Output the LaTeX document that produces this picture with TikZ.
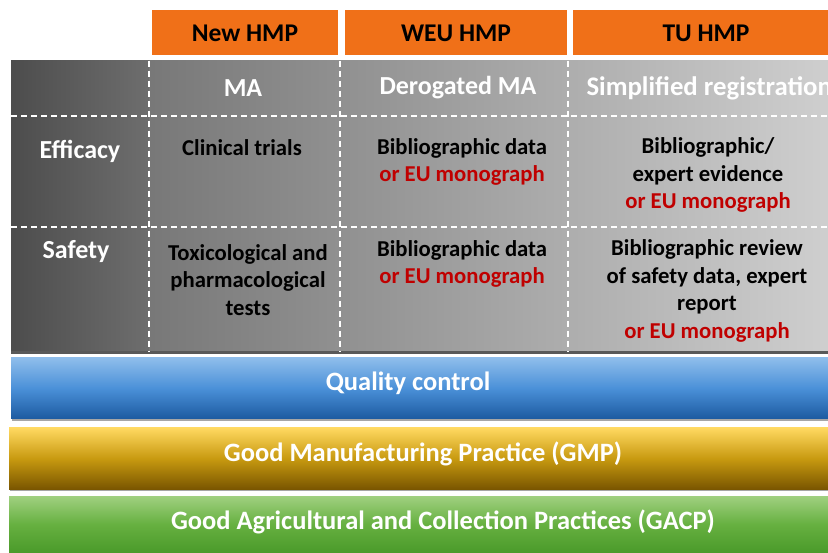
\documentclass[tikz,border=0pt]{standalone}
\usepackage{fontspec}
\setmainfont{Carlito}
\definecolor{hdrorange}{HTML}{F07018}
\definecolor{myred}{HTML}{C00000}
\definecolor{qctop}{HTML}{8EBDEB}
\definecolor{qcmid}{HTML}{4A90D8}
\definecolor{qcbot}{HTML}{1C5AA0}
\definecolor{gmptop}{HTML}{FFD860}
\definecolor{gmpmid}{HTML}{C89A10}
\definecolor{gmpbot}{HTML}{7A5600}
\definecolor{gtop}{HTML}{A0D080}
\definecolor{gmid}{HTML}{66B040}
\definecolor{gbot}{HTML}{4A9A2A}
\begin{document}
\begin{tikzpicture}[x=1pt,y=-1pt,
  hdrbox/.style={fill=hdrorange, draw=none},
  hdrtext/.style={font=\fontsize{25.5}{28}\selectfont\bfseries, text=black},
  coltext/.style={font=\fontsize{26}{28}\selectfont\bfseries, text=white},
  rowtext/.style={font=\fontsize{26}{28}\selectfont\bfseries, text=white},
  cell/.style={font=\fontsize{22.7}{27.5}\selectfont\bfseries, align=center, text=black},
  bartext/.style={font=\fontsize{26.5}{28}\selectfont\bfseries, text=white},
  grid/.style={white, dashed, dash pattern=on 6pt off 4pt, line width=1.4pt}
]
\useasboundingbox (0,0) rectangle (828,553);
\fill[white] (0,0) rectangle (828,553);
% orange headers
\fill[hdrbox] (152,10) rectangle (338,55);
\fill[hdrbox] (345,10) rectangle (567,55);
\fill[hdrbox] (573,10) rectangle (828,55);
\node[hdrtext] (hnew) at (245,33) {New HMP};
\node[hdrtext] (hweu) at (456,33) {WEU HMP};
\node[hdrtext] (htu) at (706,33) {TU HMP};
% gray table
\fill[black!65] (11,61) rectangle (828,354);
\shade[left color=black!70, right color=black!57] (11,61) rectangle (149,351);
\shade[left color=black!53, right color=black!19] (149,61) rectangle (828,351);
\draw[grid] (11,116) -- (828,116);
\draw[grid] (11,227) -- (828,227);
\draw[grid] (149,61) -- (149,352);
\draw[grid] (340,61) -- (340,352);
\draw[grid] (568,61) -- (568,352);
% header row
\node[coltext] (ma) at (243,88) {MA};
\node[coltext] (dma) at (458,88) {Derogated MA};
\begin{scope}
\clip (568,61) rectangle (828,116);
\node[coltext, anchor=west] (sreg) at (583,88) {\fontsize{26.8}{28}\selectfont Simplified registration};
\end{scope}
% row labels
\node[rowtext] (eff) at (80,151) {Efficacy};
\node[rowtext] (saf) at (76,252) {Safety};
% efficacy cells
\node[cell] (c11) at (242,148) {Clinical trials};
\node[cell] (c12) at (462,162) {Bibliographic data\\{\color{myred}or EU monograph}};
\node[cell] (c13) at (708,175) {Bibliographic/\\expert evidence\\{\color{myred}or EU monograph}};
% safety cells
\node[cell] (c21) at (248,280) {Toxicological and\\pharmacological\\tests};
\node[cell] (c22) at (462,264) {Bibliographic data\\{\color{myred}or EU monograph}};
\node[cell] (c23) at (707,291) {Bibliographic review\\of safety data, expert\\report\\{\color{myred}or EU monograph}};
% bars
\fill[black!35] (12,360) rectangle (828,421);
\shade[top color=qctop, bottom color=qcbot, middle color=qcmid] (11,358) rectangle (828,419);
\node[bartext] (qc) at (408,383) {Quality control};
\fill[black!35] (10,430) rectangle (828,491);
\shade[top color=gmptop, bottom color=gmpbot, middle color=gmpmid] (9,428) rectangle (828,489);
\node[bartext] (gmp) at (423,454) {Good Manufacturing Practice (GMP)};
\shade[top color=gtop, bottom color=gbot, middle color=gmid] (9,496) rectangle (828,553);
\node[bartext] (gacp) at (443,522) {Good Agricultural and Collection Practices (GACP)};
\end{tikzpicture}
\end{document}
